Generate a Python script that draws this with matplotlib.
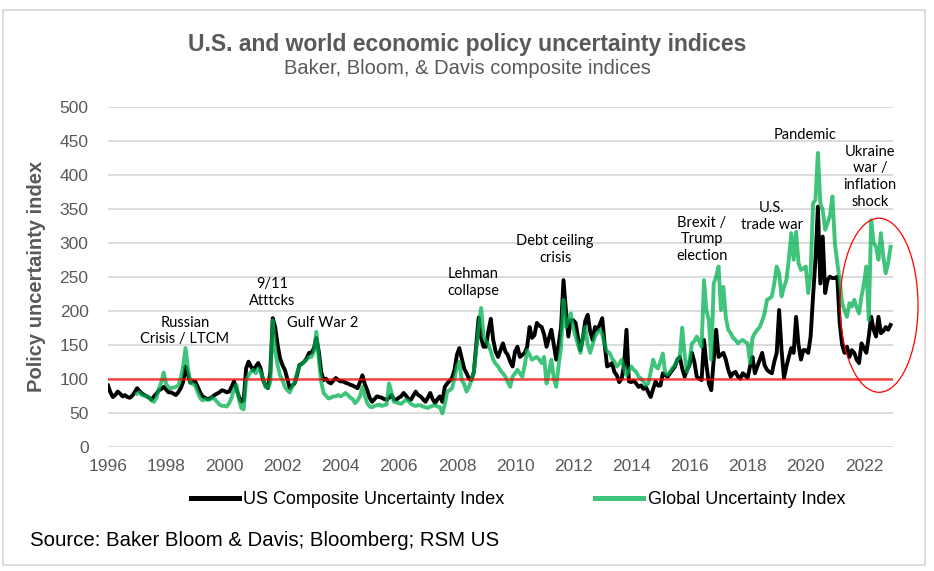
import matplotlib
matplotlib.use("Agg")
import matplotlib.pyplot as plt
import numpy as np
from matplotlib.patches import Ellipse, Rectangle

# monthly values (US from Jan 1996, global from Jan 1997)
us_index = [
    90, 80, 73, 76, 81, 78, 74, 76, 73, 72, 75, 80,            # 1996
    86, 82, 78, 76, 74, 72, 69, 74, 78, 83, 85, 88,            # 1997
    84, 80, 80, 78, 76, 80, 86, 95, 118, 105, 94, 96,          # 1998
    96, 88, 80, 74, 72, 70, 71, 73, 76, 78, 80, 83,            # 1999
    82, 80, 81, 88, 96, 85, 74, 66, 68, 115, 125, 118,         # 2000
    112, 118, 123, 115, 98, 90, 86, 110, 189, 176, 150, 130,   # 2001
    120, 113, 100, 86, 90, 93, 105, 120, 122, 125, 130, 138,   # 2002
    138, 145, 160, 140, 110, 98, 100, 95, 93, 97, 101, 98,     # 2003
    96, 96, 94, 93, 91, 90, 88, 86, 95, 105, 92, 83,           # 2004
    72, 66, 70, 74, 73, 72, 70, 69, 72, 76, 70, 69,            # 2005
    72, 74, 79, 75, 70, 69, 75, 81, 76, 74, 70, 66,            # 2006
    72, 79, 70, 64, 70, 74, 66, 88, 93, 97, 101, 113,          # 2007
    135, 145, 130, 115, 108, 100, 98, 110, 150, 190, 160, 147, # 2008
    147, 170, 188, 157, 140, 132, 142, 152, 140, 135, 125, 118,# 2009
    140, 147, 132, 135, 138, 147, 176, 160, 164, 182, 178, 176,# 2010
    165, 147, 160, 172, 150, 128, 150, 176, 245, 200, 162, 186,# 2011
    186, 182, 160, 142, 160, 185, 194, 170, 157, 176, 172, 180,# 2012
    189, 150, 118, 120, 123, 110, 105, 95, 100, 120, 172, 96,  # 2013
    95, 97, 93, 88, 90, 85, 88, 80, 73, 85, 96, 90,            # 2014
    90, 108, 105, 103, 108, 113, 118, 128, 132, 115, 103, 113, # 2015
    120, 138, 125, 103, 100, 98, 157, 120, 93, 83, 128, 172,   # 2016
    132, 135, 138, 128, 113, 103, 108, 110, 103, 100, 108, 105,# 2017
    101, 118, 132, 108, 118, 128, 138, 120, 113, 110, 108, 125,# 2018
    138, 201, 142, 101, 118, 132, 145, 138, 191, 150, 128, 142,# 2019
    142, 138, 162, 221, 275, 353, 240, 309, 226, 245, 250, 248,# 2020
    248, 250, 182, 150, 138, 147, 132, 142, 138, 128, 123, 152,# 2021
    145, 138, 162, 191, 172, 162, 191, 167, 170, 176, 172, 179,# 2022
]
global_index = [
    78, 80, 76, 75, 74, 72, 68, 66, 72, 85, 95, 109,           # 1997
    92, 87, 86, 87, 88, 90, 100, 118, 145, 115, 95, 92,        # 1998
    90, 80, 72, 68, 70, 69, 69, 72, 70, 66, 62, 60,            # 1999
    60, 59, 64, 72, 85, 91, 70, 57, 55, 98, 105, 110,          # 2000
    113, 108, 115, 110, 100, 88, 86, 95, 186, 142, 120, 105,   # 2001
    98, 88, 83, 80, 88, 95, 108, 118, 122, 125, 128, 132,      # 2002
    132, 140, 169, 130, 95, 79, 75, 71, 72, 74, 74, 76,        # 2003
    74, 76, 79, 76, 72, 70, 64, 68, 74, 88, 75, 64,            # 2004
    59, 58, 60, 61, 62, 60, 61, 62, 93, 80, 66, 65,            # 2005
    64, 63, 66, 69, 67, 63, 61, 60, 61, 61, 59, 58,            # 2006
    57, 59, 60, 61, 59, 58, 49, 62, 81, 83, 86, 100,           # 2007
    118, 125, 98, 92, 81, 88, 98, 110, 142, 175, 204, 162,     # 2008
    155, 150, 140, 128, 122, 118, 112, 108, 103, 95, 88, 103,  # 2009
    108, 113, 108, 103, 120, 142, 135, 128, 130, 132, 128, 123,# 2010
    132, 93, 110, 128, 100, 88, 120, 147, 216, 176, 185, 196,  # 2011
    175, 162, 150, 138, 160, 176, 150, 138, 150, 162, 168, 172,# 2012
    165, 150, 140, 138, 130, 125, 118, 122, 128, 115, 105, 112,# 2013
    118, 113, 110, 103, 100, 96, 90, 93, 110, 128, 118, 115,   # 2014
    125, 137, 108, 106, 110, 116, 120, 128, 132, 175, 135, 110,# 2015
    125, 152, 155, 162, 155, 147, 245, 200, 186, 128, 240, 250,# 2016
    265, 201, 235, 190, 172, 167, 160, 157, 152, 155, 157, 154,# 2017
    152, 123, 160, 167, 172, 176, 185, 196, 216, 218, 221, 240,# 2018
    265, 255, 221, 235, 245, 275, 314, 275, 316, 270, 260, 262,# 2019
    265, 226, 255, 358, 363, 432, 358, 348, 319, 329, 340, 368,# 2020
    300, 270, 245, 211, 200, 191, 211, 206, 216, 205, 196, 221,# 2021
    240, 265, 186, 333, 300, 294, 275, 314, 280, 255, 270, 294,# 2022
]
us_start = 1996
global_start = 1997
baseline = 100
x_ticks = list(range(1996, 2023, 2))
y_ticks = list(range(0, 501, 50))

plt.rcParams['font.family'] = ['Liberation Sans', 'DejaVu Sans']
GRAY = '#595959'
W, H = 934, 571

fig = plt.figure(figsize=(W / 100, H / 100), dpi=100)
ax = fig.add_axes([108 / W, 1 - 446.7 / H, 785 / W, 340 / H])

x_us = us_start + np.arange(len(us_index)) / 12
x_gl = global_start + np.arange(len(global_index)) / 12

ax.plot(x_us, us_index, color='black', lw=2.8, label='US Composite Uncertainty Index',
        zorder=3, solid_joinstyle='round')
ax.plot(x_gl, global_index, color='#00B050', alpha=0.75, lw=2.8,
        label='Global Uncertainty Index', zorder=4, solid_joinstyle='round')
ax.axhline(baseline, color='red', alpha=0.7, lw=1.8, zorder=5)

ax.set_xlim(1996, 2023)
ax.set_ylim(0, 500)
ax.set_xticks(x_ticks)
ax.set_yticks(y_ticks)
ax.grid(axis='y', color='#D9D9D9', lw=1.3)
ax.set_axisbelow(True)
for s in ax.spines.values():
    s.set_visible(False)
ax.tick_params(length=0, labelcolor=GRAY, labelsize=12.5)
ax.tick_params(axis='y', pad=14)
ax.tick_params(axis='x', pad=9)
ax.set_ylabel('Policy uncertainty index', fontsize=14.5, fontweight='bold',
              color=GRAY, labelpad=10)

# event labels
notes = [
    ("Russian\nCrisis / LTCM", 1998.65, 170),
    ("9/11\nAtttcks", 2001.64, 227),
    ("Gulf War 2", 2003.4, 182),
    ("Lehman\ncollapse", 2008.56, 242),
    ("Debt ceiling\ncrisis", 2011.38, 290),
    ("Brexit /\nTrump\nelection", 2016.43, 305),
    ("U.S.\ntrade war", 2018.84, 339),
    ("Pandemic", 2019.98, 459),
    ("Ukraine\nwar /\ninflation\nshock", 2022.21, 397),
]
for txt, xx, yy in notes:
    ax.text(xx, yy, txt, ha='center', va='center', fontsize=10.5,
            family=['Lato', 'DejaVu Sans'], linespacing=1.25, color='black', zorder=6)

ax.add_patch(Ellipse((2022.52, 208), width=2.68, height=256, fill=False,
                     edgecolor='red', lw=0.9, clip_on=False, zorder=6))

fig.text(0.5, 1 - 45 / H, 'U.S. and world economic policy uncertainty indices',
         ha='center', va='center', fontsize=16.5, fontweight='bold', color=GRAY)
fig.text(0.5, 1 - 69 / H, 'Baker, Bloom, & Davis composite indices',
         ha='center', va='center', fontsize=14.5, color=GRAY)

leg = fig.legend(loc='center', bbox_to_anchor=(518 / W, 1 - 500 / H), ncol=2, frameon=False,
                 fontsize=13, handlelength=2.66, handletextpad=0.25, columnspacing=5)
for ln in leg.get_lines():
    ln.set_linewidth(3.6)

fig.text(30 / W, 1 - 540 / H, 'Source: Baker Bloom & Davis; Bloomberg; RSM US',
         ha='left', va='center', fontsize=14.7, color='black')

fig.patches.append(Rectangle((3 / W, 1 - 565 / H), 922 / W, 555 / H, transform=fig.transFigure,
                             fill=False, edgecolor='#D9D9D9', lw=1.3))

fig.savefig('out.png', dpi=100)
